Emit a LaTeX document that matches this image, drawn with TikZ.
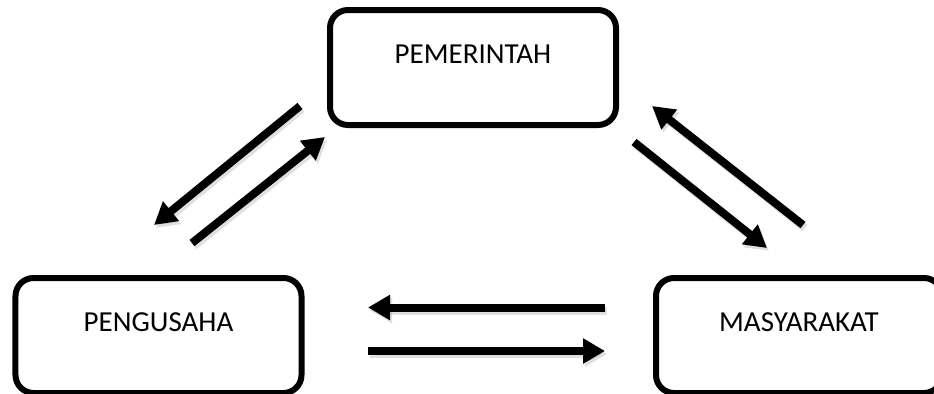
\documentclass[tikz,border=0pt]{standalone}
\usepackage{fontspec}
\setmainfont{Carlito}
\usetikzlibrary{arrows.meta}
\begin{document}
\begin{tikzpicture}[x=1bp,y=-1bp,
  box/.style={draw, line width=6bp, rounded corners=18bp, minimum width=286bp,
    minimum height=115bp, text height=20bp, text depth=28bp, inner sep=0pt,
    font=\fontsize{29bp}{34bp}\selectfont},
  flow/.style={line width=8bp, -{Triangle[length=22bp,width=24bp]}},
  shadow/.style={flow, draw=black, opacity=0.12, transform canvas={shift={(2bp,-3bp)}}}]
\useasboundingbox (0,0) rectangle (934,393);
\clip (0,0) rectangle (934,393);
\node[box] (gov) at (473,67.5) {PEMERINTAH};
\node[box] (biz) at (158.5,335.5) {PENGUSAHA};
\node[box] (pub) at (799,335.5) {MASYARAKAT};
\coordinate (a1s) at (300,106); \coordinate (a1e) at (154,225);
\coordinate (a2s) at (192,243); \coordinate (a2e) at (325,137);
\coordinate (a3s) at (803,225); \coordinate (a3e) at (652,106);
\coordinate (a4s) at (634,142); \coordinate (a4e) at (767,248);
\coordinate (a5s) at (605,307.5); \coordinate (a5e) at (368,307.5);
\coordinate (a6s) at (368,351); \coordinate (a6e) at (605,351);
\foreach \i in {1,...,6}{
  \draw[shadow] (a\i s) -- (a\i e);
  \draw[flow] (a\i s) -- (a\i e);
}
\end{tikzpicture}
\end{document}
